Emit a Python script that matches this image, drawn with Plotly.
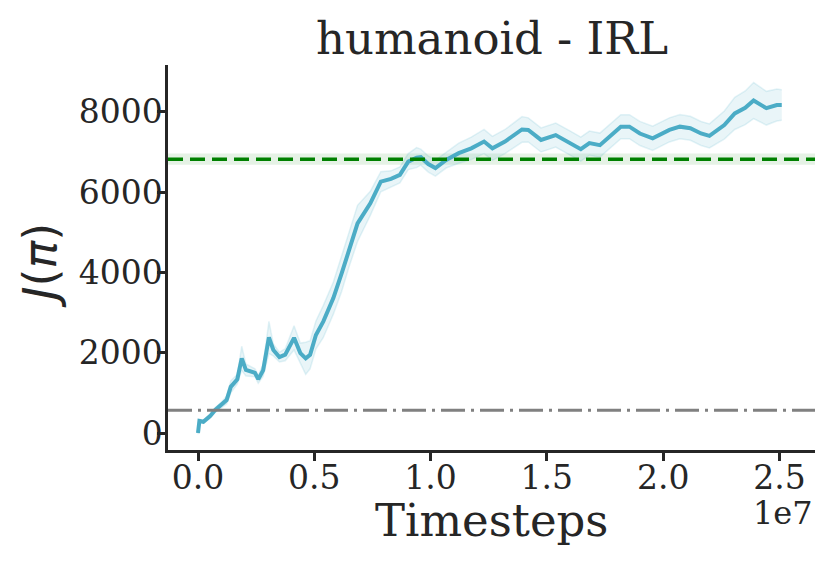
"""
Learning curve: humanoid - IRL
"""
import plotly.graph_objects as go

# timesteps in units of 1e7
steps = [0.000, 0.006, 0.023, 0.052, 0.073, 0.102, 0.123, 0.141, 0.169, 0.188,
         0.206, 0.245, 0.259, 0.280, 0.305, 0.324, 0.350, 0.375, 0.413, 0.440,
         0.463, 0.482, 0.507, 0.539, 0.582, 0.618, 0.650, 0.686, 0.741, 0.786,
         0.830, 0.868, 0.904, 0.940, 0.958, 0.990, 1.021, 1.067, 1.121, 1.175,
         1.230, 1.266, 1.320, 1.393, 1.420, 1.475, 1.538, 1.601, 1.646, 1.683,
         1.728, 1.818, 1.855, 1.900, 1.955, 2.027, 2.072, 2.117, 2.163, 2.199,
         2.263, 2.308, 2.353, 2.389, 2.444, 2.489, 2.510]
mean_return = [0, 300, 280, 420, 570, 700, 820, 1150, 1340, 1860,
               1570, 1500, 1340, 1560, 2380, 2070, 1890, 1950, 2370, 1990,
               1860, 1950, 2440, 2780, 3360, 3980, 4600, 5220, 5720, 6260,
               6330, 6430, 6760, 6860, 6870, 6700, 6600, 6800, 6970, 7090,
               7260, 7090, 7260, 7560, 7550, 7300, 7420, 7220, 7070, 7220,
               7170, 7630, 7630, 7460, 7340, 7550, 7630, 7590, 7460, 7400,
               7670, 7960, 8100, 8280, 8090, 8170, 8170]
spread = [30, 40, 40, 50, 60, 80, 100, 150, 120, 300,
          150, 100, 100, 150, 400, 150, 120, 150, 300, 250,
          400, 350, 350, 400, 400, 450, 450, 450, 300, 250,
          200, 200, 200, 250, 200, 200, 200, 200, 250, 280,
          300, 300, 300, 320, 300, 300, 300, 300, 300, 300,
          300, 300, 300, 300, 300, 300, 300, 300, 300, 300,
          350, 400, 420, 450, 420, 400, 380]

expert_return = 6820
expert_std = 140
random_return = 570

x_ticks = [0.0, 0.5, 1.0, 1.5, 2.0, 2.5]
y_ticks = [0, 2000, 4000, 6000, 8000]

line_color = '#4bacc6'
text_color = '#262626'
serif = 'DejaVu Serif'

upper = [m + s for m, s in zip(mean_return, spread)]
lower = [m - s for m, s in zip(mean_return, spread)]

fig = go.Figure()

fig.add_trace(go.Scatter(
    x=steps, y=upper, mode='lines',
    line=dict(color='rgba(75,172,198,0.15)', width=1.5),
    showlegend=False, hoverinfo='skip'
))
fig.add_trace(go.Scatter(
    x=steps, y=lower, mode='lines', fill='tonexty',
    fillcolor='rgba(75,172,198,0.12)',
    line=dict(color='rgba(75,172,198,0.15)', width=1.5),
    showlegend=False, hoverinfo='skip'
))
fig.add_trace(go.Scatter(
    x=steps, y=mean_return, mode='lines',
    line=dict(color=line_color, width=4),
    showlegend=False
))

# expert band + line
fig.add_shape(type='rect', xref='x domain', yref='y',
              x0=0, x1=1, y0=expert_return - expert_std, y1=expert_return + expert_std,
              fillcolor='rgba(0,128,0,0.1)', line_width=0, layer='below')
fig.add_shape(type='line', xref='x domain', yref='y',
              x0=0, x1=1, y0=expert_return, y1=expert_return,
              line=dict(color='green', width=3.5, dash='15px,7px'))
# random policy
fig.add_shape(type='line', xref='x domain', yref='y',
              x0=0, x1=1, y0=random_return, y1=random_return,
              line=dict(color='grey', width=3, dash='24px,6px,3px,6px'))

# axis titles and offset text placed by hand (matplotlib-like layout)
fig.add_annotation(
    text='Timesteps', xref='paper', yref='paper', x=0.5, y=-0.182,
    xanchor='center', yanchor='middle', showarrow=False,
    font=dict(family=serif, size=45, color=text_color)
)
fig.add_annotation(
    text='<i>J</i>(<i>π</i>)', xref='paper', yref='paper', x=-0.198, y=0.48,
    xanchor='center', yanchor='middle', textangle=-90, showarrow=False,
    font=dict(family='DejaVu Sans', size=46, color=text_color)
)
fig.add_annotation(
    text='1e7', xref='paper', yref='paper', x=1.0, y=-0.164,
    xanchor='right', yanchor='middle', showarrow=False,
    font=dict(family=serif, size=32, color=text_color)
)

# page body has an 8px margin, so the figure is shrunk by that much
fig.update_layout(
    width=823, height=555,
    margin=dict(l=160, r=16, t=57, b=113),
    paper_bgcolor='white', plot_bgcolor='white',
    font=dict(family=serif, color=text_color),
    title=dict(text='humanoid - IRL', x=(492 - 8) / 823, xanchor='center',
               y=1 - 30 / 555, yanchor='middle',
               font=dict(family=serif, size=45, color=text_color)),
)

fig.update_xaxes(
    range=[-0.129, 2.653], automargin=False,
    tickvals=x_ticks, ticktext=['%.1f' % t for t in x_ticks],
    showline=True, linecolor=text_color, linewidth=2.5,
    ticks='outside', ticklen=8, tickwidth=2.5, tickcolor=text_color,
    tickfont=dict(family=serif, size=33, color=text_color),
    ticklabelstandoff=-11,
    showgrid=False, zeroline=False
)
fig.update_yaxes(
    range=[-423, 9166], automargin=False,
    tickvals=y_ticks,
    showline=True, linecolor=text_color, linewidth=2.5,
    ticks='outside', ticklen=8, tickwidth=2.5, tickcolor=text_color,
    tickfont=dict(family=serif, size=33, color=text_color),
    ticklabelstandoff=-12,
    showgrid=False, zeroline=False
)

fig.write_html("out.html")
